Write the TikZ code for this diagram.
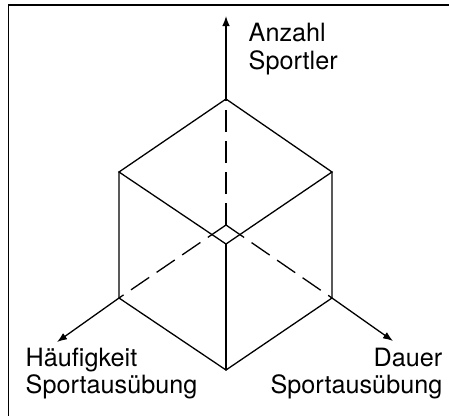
\documentclass[tikz,border=0pt]{standalone}
\usepackage{fontspec}
\setmainfont{TeX Gyre Heros}
\usepackage{tikz}
\usetikzlibrary{calc}
\usetikzlibrary{arrows.meta}
\tikzset{edge/.style={line width=1.3pt, line cap=round},
        hidden/.style={line width=1.3pt, dash pattern=on 22pt off 9pt},
        axis/.style={line width=1.3pt, -{Latex[length=10pt,width=7.5pt]}},
        lbl/.style={inner sep=0pt, font=\fontsize{25.2}{27}\selectfont}}

\begin{document}
\begin{tikzpicture}[x=1pt, y=-1pt]
    \useasboundingbox (0,0) rectangle (449,415);
    % frame
    \draw[line width=1.6pt] (8.5,416) -- (8.5,5) -- (450,5);

    % cube corners
    \coordinate (top) at (226,99);
    \coordinate (ul) at (119,172);
    \coordinate (ur) at (332,172);
    \coordinate (front) at (226,244);
    \coordinate (ll) at (119,298);
    \coordinate (lr) at (332,298);
    \coordinate (bottom) at (226,370);
    \coordinate (origin) at (226,225);

    % visible edges
    \draw[edge] (top) -- (ul) -- (front) -- (ur) -- cycle;
    \draw[edge] (ul) -- (ll) -- (bottom) -- (lr) -- (ur);
    \draw[edge] (front) -- (bottom);

    % hidden edges
    \foreach \c in {top,ll,lr} {
        \draw[hidden] (origin) -- (\c);
    }

    % axes
    \coordinate (yend) at (226,16);
    \coordinate (xend) at (57,342);
    \coordinate (zend) at (393,341);
    \draw[axis] (top) -- (yend);
    \draw[axis] (ll) -- (xend);
    \draw[axis] (lr) -- (zend);

    % labels
    \node[lbl, anchor=base west] (anzahl) at (248.5,41.7) {Anzahl};
    \node[lbl, anchor=base west] (sportler) at (248.5,69.3) {Sportler};
    \node[lbl, anchor=base west] (haeufig) at (25.5,366.7) {Häufigkeit};
    \node[lbl, anchor=base west] (sport1) at (25.5,393.3) {Sportausübung};
    \node[lbl, anchor=base east] (dauer) at (442.5,366.7) {Dauer};
    \node[lbl, anchor=base east] (sport2) at (442.5,393.3) {Sportausübung};
\end{tikzpicture}
\end{document}
